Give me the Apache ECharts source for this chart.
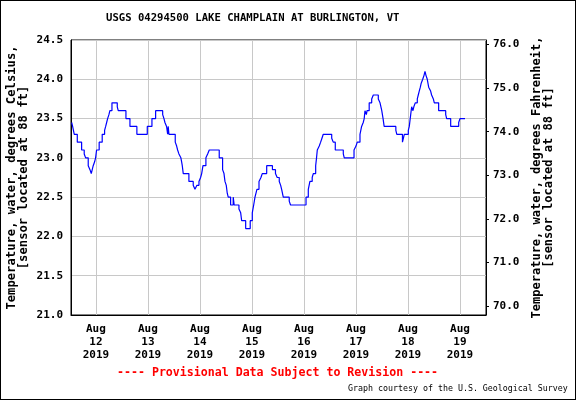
<!DOCTYPE html>
<html lang="en">
<head>
  <meta charset="UTF-8">
  <title>USGS 04294500 Lake Champlain at Burlington, VT</title>
  <script src="https://cdn.jsdelivr.net/npm/echarts@6/dist/echarts.min.js"></script>
  <style>
    html, body { margin: 0; padding: 0; background: #fff; }
    #chart {
      width: 576px;
      height: 400px;
      box-sizing: border-box;
      border: 1px solid #000;
    }
  </style>
</head>
<body>
  <div id="chart"></div>
  <script>
    // hours since 2019-08-12 00:00, at each change of the reading
    const hours = [
      -11.2, -10.75, -10.0, -8.6, -6.6, -5.4, -4.75, -3.55, -2.75, -2.15,
      -1.7, -1.25, -0.6, -0.15, 0.3, 1.5, 2.9, 4.0, 4.5, 4.95,
      5.4, 6.0, 6.45, 7.4, 9.85, 10.3, 13.85, 15.7, 18.9, 23.7,
      25.85, 27.55, 30.8, 31.4, 31.85, 32.6, 33.1, 33.35, 33.7, 36.6,
      37.25, 37.7, 38.3, 39.2, 39.55, 39.85, 40.3, 42.9, 44.9, 45.7,
      46.6, 47.55, 48.3, 48.8, 49.4, 50.75, 51.55, 52.3, 56.9, 58.45,
      59.1, 59.55, 60.15, 60.6, 61.05, 62.15, 63.35, 63.8, 66.0, 66.8,
      67.25, 69.1, 71.2, 72.15, 72.8, 73.4, 74.3, 75.25, 76.15, 76.75,
      78.8, 81.45, 82.85, 83.65, 84.6, 85.25, 85.7, 86.45, 89.2, 89.8,
      96.95, 98.0, 98.75, 99.8, 100.3, 101.4, 101.8, 102.15, 103.05, 103.7,
      104.3, 104.9, 108.8, 109.5, 110.45, 114.15, 114.6, 119.1, 120.0, 120.6,
      121.85, 122.6, 123.35, 123.8, 124.15, 124.8, 125.1, 126.1, 127.25, 128.0,
      130.3, 131.1, 131.9, 132.5, 133.0, 138.4, 138.85, 141.45, 141.9, 142.3,
      144.15, 144.6, 145.25, 145.7, 146.3, 146.7, 147.35, 148.3, 148.75, 149.2,
      149.7, 150.1, 150.8, 151.4, 151.85, 152.3, 152.9, 153.55, 154.45, 154.9,
      155.7, 156.15, 158.15, 161.4, 161.85, 163.7, 167.4, 168.0, 170.3
    ];
    // water temperature, degrees Celsius
    const tempC = [
      23.45, 23.4, 23.3, 23.2, 23.1, 23.05, 23.0, 22.9, 22.85, 22.8,
      22.85, 22.9, 22.95, 23.0, 23.1, 23.2, 23.3, 23.35, 23.4, 23.45,
      23.5, 23.55, 23.6, 23.7, 23.65, 23.6, 23.5, 23.4, 23.3, 23.4,
      23.5, 23.6, 23.55, 23.5, 23.45, 23.4, 23.3, 23.4, 23.3, 23.2,
      23.15, 23.1, 23.05, 23.0, 22.95, 22.9, 22.8, 22.7, 22.65, 22.6,
      22.65, 22.7, 22.75, 22.8, 22.9, 23.0, 23.05, 23.1, 23.0, 22.85,
      22.8, 22.7, 22.65, 22.55, 22.5, 22.4, 22.5, 22.4, 22.35, 22.3,
      22.2, 22.1, 22.2, 22.3, 22.4, 22.5, 22.6, 22.7, 22.75, 22.8,
      22.9, 22.85, 22.8, 22.75, 22.7, 22.65, 22.6, 22.5, 22.45, 22.4,
      22.5, 22.6, 22.7, 22.75, 22.8, 22.9, 23.0, 23.1, 23.15, 23.2,
      23.25, 23.3, 23.25, 23.2, 23.1, 23.05, 23.0, 23.1, 23.15, 23.2,
      23.3, 23.4, 23.45, 23.5, 23.6, 23.55, 23.6, 23.7, 23.75, 23.8,
      23.75, 23.7, 23.6, 23.5, 23.4, 23.35, 23.3, 23.2, 23.25, 23.3,
      23.35, 23.4, 23.55, 23.65, 23.6, 23.65, 23.7, 23.75, 23.8, 23.85,
      23.9, 23.95, 24.0, 24.05, 24.1, 24.05, 24.0, 23.9, 23.85, 23.8,
      23.75, 23.7, 23.6, 23.55, 23.5, 23.4, 23.45, 23.5, 23.5
    ];
    // midnight of each labelled day, hours since 2019-08-12 00:00
    const dayTicks = [0, 24, 48, 72, 96, 120, 144, 168];
    const dayLabels = ['Aug\n12\n2019', 'Aug\n13\n2019', 'Aug\n14\n2019', 'Aug\n15\n2019',
                       'Aug\n16\n2019', 'Aug\n17\n2019', 'Aug\n18\n2019', 'Aug\n19\n2019'];
    const fahrenheitTicks = [70, 71, 72, 73, 74, 75, 76];

    const mono = "'DejaVu Sans Mono', monospace";
    const gridColor = '#c8c8c8';

    const chart = echarts.init(document.getElementById('chart'), null, { renderer: 'canvas' });
    chart.setOption({
      animation: false,
      backgroundColor: '#fff',
      title: [
        {
          text: 'USGS 04294500 LAKE CHAMPLAIN AT BURLINGTON, VT',
          left: 105, top: 12, padding: 0,
          textStyle: { fontFamily: mono, fontSize: 10.6, fontWeight: 'bold', color: '#000' }
        },
        {
          text: '---- Provisional Data Subject to Revision ----',
          left: 116, top: 366, padding: 0,
          textStyle: { fontFamily: mono, fontSize: 11.6, fontWeight: 'bold', color: '#ff0000' }
        },
        {
          text: 'Graph courtesy of the U.S. Geological Survey',
          left: 347, top: 384, padding: 0,
          textStyle: { fontFamily: mono, fontSize: 8.3, fontWeight: 'normal', color: '#000' }
        }
      ],
      grid: {
        left: 70, top: 39, width: 415, height: 275,
        show: true, borderColor: '#000', borderWidth: 1,
        containLabel: false,
        outerBoundsMode: 'none'
      },
      xAxis: {
        type: 'value',
        min: -11.5,
        max: 180,
        axisLine: { show: true, onZero: false, lineStyle: { color: '#000', width: 1 } },
        axisTick: { show: false, customValues: dayTicks },
        axisLabel: {
          customValues: dayTicks,
          margin: 8,
          fontFamily: mono, fontSize: 11, fontWeight: 'bold', color: '#000',
          lineHeight: 13,
          formatter: v => dayLabels[dayTicks.indexOf(v)]
        },
        splitLine: { show: true, lineStyle: { color: gridColor, width: 1 } }
      },
      yAxis: [
        {
          type: 'value',
          position: 'left',
          min: 21, max: 24.5, interval: 0.5,
          name: 'Temperature, water, degrees Celsius,\n[sensor located at 88 ft]',
          nameLocation: 'middle', nameRotate: 90, nameGap: 41,
          nameMoveOverlap: false,
          nameTextStyle: { fontFamily: mono, fontSize: 12.2, fontWeight: 'bold', color: '#000', lineHeight: 12 },
          axisLine: { show: true, onZero: false, lineStyle: { color: '#000', width: 1 } },
          axisTick: { show: false },
          axisLabel: {
            margin: 8,
            fontFamily: mono, fontSize: 11, fontWeight: 'bold', color: '#000',
            formatter: v => v.toFixed(1)
          },
          splitLine: { show: true, lineStyle: { color: gridColor, width: 1 } }
        },
        {
          type: 'value',
          position: 'right',
          min: 69.8, max: 76.1,
          name: 'Temperature, water, degrees Fahrenheit,\n[sensor located at 88 ft]',
          nameLocation: 'middle', nameRotate: 90, nameGap: 45,
          nameMoveOverlap: false,
          nameTextStyle: { fontFamily: mono, fontSize: 12, fontWeight: 'bold', color: '#000', lineHeight: 12 },
          axisLine: { show: true, onZero: false, lineStyle: { color: '#000', width: 1 } },
          axisTick: { show: true, inside: false, length: 3, customValues: fahrenheitTicks, lineStyle: { color: '#000' } },
          axisLabel: {
            customValues: fahrenheitTicks,
            margin: 7,
            fontFamily: mono, fontSize: 11, fontWeight: 'bold', color: '#000',
            formatter: v => v.toFixed(1)
          },
          splitLine: { show: false }
        }
      ],
      series: [
        {
          type: 'line',
          yAxisIndex: 0,
          step: 'end',
          showSymbol: false,
          data: hours.map((h, i) => [h, tempC[i]]),
          lineStyle: { color: '#0000ff', width: 1.2 },
          itemStyle: { color: '#0000ff' }
        }
      ]
    });
  </script>
</body>
</html>
